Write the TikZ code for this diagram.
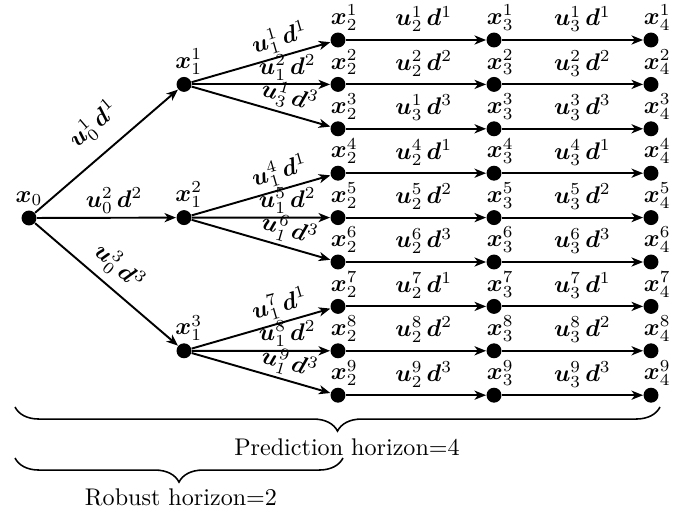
\documentclass[tikz,border=0pt]{standalone}
\usepackage{amsmath,bm}
\usetikzlibrary{arrows.meta,decorations.pathreplacing}
\begin{document}
\begin{tikzpicture}[x=0.415pt,y=-0.415pt,
  dot/.style={circle,fill=black,inner sep=0pt,minimum size=6.2pt},
  arr/.style={line width=0.8pt,-{Stealth[length=4.8pt,width=3.8pt,inset=1.4pt]}},
  elab/.style={inner sep=0pt,sloped},
  brc/.style={decorate,decoration={brace,mirror,amplitude=10pt},line width=0.65pt}]
\useasboundingbox (0,0) rectangle (686,512);

% state nodes
\node[dot,label={[inner sep=0pt,label distance=1.6pt]above:$\bm{x}_0$}] (x0) at (29,218) {};
\foreach \k/\y in {1/84.4,2/217.6,3/350.8}
  \node[dot,label={[inner sep=0pt,label distance=0.6pt,xshift=2pt]above:$\bm{x}_1^{\k}$}] (x1-\k) at (184,\y) {};
\foreach \c/\xx in {2/338,3/494,4/651}
  \foreach \k in {1,...,9}
    \node[dot,label={[inner sep=0pt,label distance=0.4pt,xshift=2.6pt]above:$\bm{x}_{\c}^{\k}$}] (x\c-\k) at (\xx,{40+44.4*(\k-1)}) {};

% first stage
\draw[arr] (x0) -- node[elab,pos=0.54,above=6pt] {$\bm{u}_0^1\,\bm{d}^1$} (x1-1);
\draw[arr] (x0) -- node[elab,pos=0.555,above=1.3pt] {$\bm{u}_0^2\,\bm{d}^2$} (x1-2);
\draw[arr] (x0) -- node[elab,pos=0.49,above=3pt] {$\bm{u}_0^3\,\bm{d}^3$} (x1-3);

% second stage
\draw[arr] (x1-1) -- node[elab,pos=0.67,above=1.4pt] {$\bm{u}_1^1\,\bm{d}^1$} (x2-1);
\draw[arr] (x1-1) -- node[elab,pos=0.69,above=1.4pt] {$\bm{u}_1^2\,\bm{d}^2$} (x2-2);
\draw[arr] (x1-1) -- node[elab,pos=0.67,above=1.4pt] {$\bm{u}_3^1\,\bm{d}^3$} (x2-3);
\draw[arr] (x1-2) -- node[elab,pos=0.67,above=1.4pt] {$\bm{u}_1^4\,\bm{d}^1$} (x2-4);
\draw[arr] (x1-2) -- node[elab,pos=0.69,above=1.4pt] {$\bm{u}_1^5\,\bm{d}^2$} (x2-5);
\draw[arr] (x1-2) -- node[elab,pos=0.67,above=1.4pt] {$\bm{u}_1^6\,\bm{d}^3$} (x2-6);
\draw[arr] (x1-3) -- node[elab,pos=0.67,above=1.4pt] {$\bm{u}_1^7\,\bm{d}^1$} (x2-7);
\draw[arr] (x1-3) -- node[elab,pos=0.69,above=1.4pt] {$\bm{u}_1^8\,\bm{d}^2$} (x2-8);
\draw[arr] (x1-3) -- node[elab,pos=0.67,above=1.4pt] {$\bm{u}_1^9\,\bm{d}^3$} (x2-9);

% remaining stages
\foreach \k/\s/\d in {1/1/1,2/2/2,4/4/1,5/5/2,6/6/3,7/7/1,8/8/2,9/9/3}
  \draw[arr] (x2-\k) -- node[elab,pos=0.556,above=3pt] {$\bm{u}_2^{\s}\,\bm{d}^{\d}$} (x3-\k);
\draw[arr] (x2-3) -- node[elab,pos=0.556,above=3pt] {$\bm{u}_3^1\,\bm{d}^3$} (x3-3);
\foreach \k/\d in {1/1,2/2,3/3,4/1,5/2,6/3,7/1,8/2,9/3}
  \draw[arr] (x3-\k) -- node[elab,pos=0.57,above=3pt] {$\bm{u}_3^{\k}\,\bm{d}^{\d}$} (x4-\k);

% horizons
\coordinate (pl) at (15,407);
\coordinate (pr) at (660,407);
\coordinate (rl) at (15,458);
\coordinate (rr) at (343,458);
\draw[brc] (pl) -- (pr);
\draw[brc] (rl) -- (rr);
\node (ph) at (347,447) {Prediction horizon=4};
\node (rh) at (181,497) {Robust horizon=2};
\end{tikzpicture}
\end{document}
